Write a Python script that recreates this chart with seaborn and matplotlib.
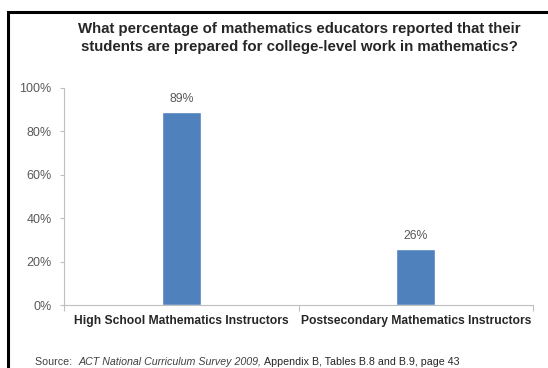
import matplotlib
matplotlib.use("Agg")
import matplotlib.pyplot as plt
import matplotlib.patches as mpatches
from matplotlib.ticker import FixedLocator, FuncFormatter
import seaborn as sns
import pandas as pd

# datos
categorias = ["High School Mathematics Instructors", "Postsecondary Mathematics Instructors"]
porcentajes = [89, 26]
ticks_y = [0, 20, 40, 60, 80, 100]

df = pd.DataFrame({"grupo": categorias, "pct": porcentajes})

sns.set_theme(style="white")
plt.rcParams["font.family"] = ["Liberation Sans", "DejaVu Sans"]

fig = plt.figure(figsize=(5.48, 3.68), dpi=100)
ax = fig.add_axes([64 / 548, 1 - 305 / 368, 469 / 548, 217 / 368])

sns.barplot(data=df, x="grupo", y="pct", color="#4F81BD", width=0.165,
            saturation=1, ax=ax)

ax.set_xlim(-0.5, 1.5)
ax.set_ylim(0, 100)
ax.set_xlabel("")
ax.set_ylabel("")

# eje y
ax.set_yticks(ticks_y)
ax.yaxis.set_major_formatter(FuncFormatter(lambda v, p: f"{int(v)}%"))
ax.tick_params(axis="y", labelsize=9, labelcolor="#595959", length=3,
               color="#BFBFBF", width=0.8, left=True, pad=6)

# eje x: marcas entre categorías
ax.tick_params(axis="x", which="major", length=0, labelsize=8.7,
               labelcolor="#262626", pad=7)
for lbl in ax.get_xticklabels():
    lbl.set_fontweight("bold")
ax.xaxis.set_minor_locator(FixedLocator([-0.5, 0.5, 1.5]))
ax.tick_params(axis="x", which="minor", length=4, color="#BFBFBF",
               width=0.8, bottom=True)

for s in ["top", "right"]:
    ax.spines[s].set_visible(False)
for s in ["left", "bottom"]:
    ax.spines[s].set_color("#BFBFBF")
    ax.spines[s].set_linewidth(0.8)

# etiquetas de datos
for i, v in enumerate(porcentajes):
    ax.annotate(f"{v}%", (i, v), xytext=(0, 5), textcoords="offset points",
                ha="center", va="bottom", fontsize=8.8, color="#595959")

# título
fig.text(299 / 548, 1 - 38 / 368,
         "What percentage of mathematics educators reported that their\n"
         "students are prepared for college-level work in mathematics?",
         ha="center", va="center", fontsize=10.8, fontweight="bold",
         color="#262626", linespacing=1.3)

# fuente
t1 = fig.text(35 / 548, 1 - 362 / 368, "Source:  ", fontsize=7.7,
              color="#404040", va="center")
t2 = ax.annotate("ACT National Curriculum Survey 2009, ", xy=(1, 0),
                 xycoords=t1, va="bottom", fontsize=7.7, style="italic",
                 color="#404040", annotation_clip=False)
ax.annotate("Appendix B, Tables B.8 and B.9, page 43", xy=(1, 0),
            xycoords=t2, va="bottom", fontsize=7.7, color="#262626",
            annotation_clip=False)

# marco
fig.patches.append(mpatches.Rectangle((8 / 548, -0.05), 1.1, 1 - 12 / 368 + 0.05,
                                      transform=fig.transFigure, fill=False,
                                      edgecolor="black", linewidth=2.2))

fig.savefig("out.png", dpi=100)
